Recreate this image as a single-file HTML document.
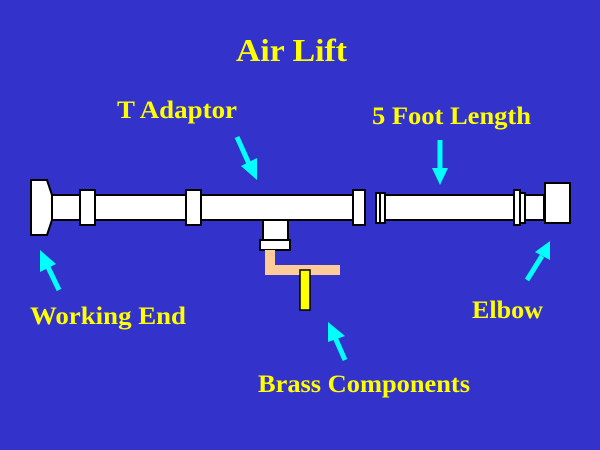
<!DOCTYPE html>
<html><head><style>
html,body{margin:0;padding:0;background:#3333cc;}
svg{display:block}
text{font-family:"Liberation Serif",serif;font-weight:bold;fill:#ffff00;}
</style></head><body>
<svg width="600" height="450" viewBox="0 0 600 450">
<rect width="600" height="450" fill="#3333cc"/>
<text x="236" y="61" font-size="32" textLength="111" lengthAdjust="spacingAndGlyphs">Air Lift</text>
<text x="117" y="118" font-size="25" textLength="120" lengthAdjust="spacingAndGlyphs">T Adaptor</text>
<text x="372" y="124" font-size="25" textLength="159" lengthAdjust="spacingAndGlyphs">5 Foot Length</text>
<text x="30" y="324" font-size="25" textLength="156" lengthAdjust="spacingAndGlyphs">Working End</text>
<text x="472" y="318" font-size="25" textLength="71" lengthAdjust="spacingAndGlyphs">Elbow</text>
<text x="258" y="392" font-size="25" textLength="212" lengthAdjust="spacingAndGlyphs">Brass Components</text>
<g stroke="#000" stroke-width="2" fill="#fff">
<rect x="46" y="195" width="310" height="25"/>
<path d="M31 180 H47 L52 195 V220 L47 235 H31 Z"/>
<rect x="80" y="190" width="15" height="35"/>
<rect x="186" y="190" width="15" height="35"/>
<rect x="353" y="190" width="12" height="35"/>
<rect x="263" y="220" width="25" height="20"/>
<rect x="260" y="240" width="30" height="10"/>
<rect x="384" y="195" width="160" height="25"/>
<rect x="376" y="193" width="4" height="30"/>
<rect x="380" y="193" width="5" height="30"/>
<rect x="514" y="193" width="5" height="30"/>
<rect x="519" y="193" width="6" height="30"/>
<rect x="545" y="183" width="25" height="40"/>
<rect x="514" y="190" width="6" height="35"/>
</g>
<path d="M270 250 V270 H340" stroke="#ffcc99" stroke-width="10" fill="none"/>
<rect x="300" y="270" width="10" height="40" fill="#ffff00" stroke="#000" stroke-width="1.5"/>
<g fill="#00ffff" stroke="#00ffff">
<line x1="237" y1="137" x2="250" y2="166" stroke-width="5"/>
<polygon points="257,180 241,166 257,158" stroke="none"/>
<line x1="440" y1="140" x2="440" y2="170" stroke-width="5"/>
<polygon points="432,168 448,168 440,185" stroke="none"/>
<line x1="59" y1="290" x2="47" y2="265" stroke-width="5"/>
<polygon points="40,250 56,264 40,272" stroke="none"/>
<line x1="527" y1="280" x2="542" y2="256" stroke-width="5"/>
<polygon points="550,241 550,260 535,252" stroke="none"/>
<line x1="345" y1="360" x2="334" y2="335" stroke-width="5"/>
<polygon points="328,322 345,336 328,342" stroke="none"/>
</g>
</svg>
</body></html>
